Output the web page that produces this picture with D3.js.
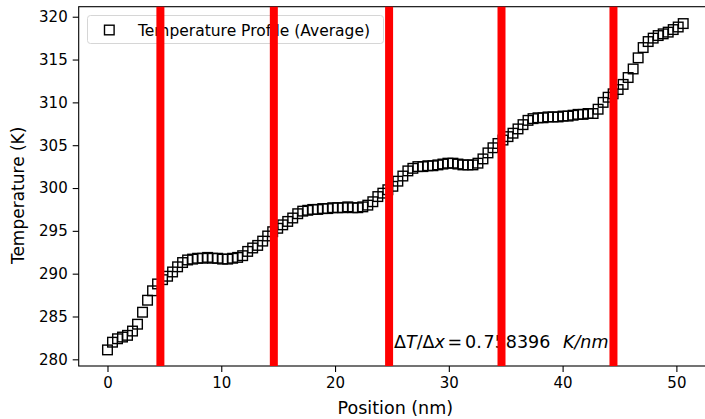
<!DOCTYPE html>
<html><head><meta charset="utf-8">
<script src="https://cdn.jsdelivr.net/npm/d3@7"></script>
<style>body{margin:0;background:#fff}svg{display:block}text{font-family:"DejaVu Sans",sans-serif;fill:#000}</style>
</head><body><svg id="c" width="705" height="419"></svg>
<script>
// Bin step (nm) and averaged temperature values (K)
const binStep = 0.44;
const temperature = [
281.1,282.0,282.4,282.6,282.8,283.3,284.1,285.5,286.9,288.0,
288.8,289.3,289.7,290.2,290.8,291.3,291.6,291.7,291.8,291.8,
291.9,291.8,291.8,291.7,291.7,291.8,291.9,292.1,292.6,293.0,
293.3,293.8,294.4,294.9,295.3,295.7,296.1,296.5,297.0,297.3,
297.4,297.5,297.5,297.6,297.6,297.7,297.7,297.7,297.8,297.7,
297.7,297.8,298.0,298.4,299.0,299.4,299.8,300.2,300.8,301.4,
302.0,302.3,302.5,302.5,302.6,302.6,302.7,302.8,302.9,302.9,
302.8,302.7,302.7,302.7,302.9,303.4,304.1,304.7,305.2,305.6,
306.0,306.4,306.9,307.4,307.9,308.1,308.2,308.2,308.3,308.3,
308.3,308.4,308.4,308.5,308.6,308.6,308.7,308.7,309.2,310.0,
310.6,311.0,311.5,312.1,312.9,313.9,315.2,316.4,317.1,317.5,
317.8,318.0,318.2,318.5,318.8,319.2];
const position = temperature.map((_, i) => +(i * binStep).toFixed(2));
const boundaries = [4.65, 14.62, 24.75, 34.63, 44.47];
const xTicks = [0, 10, 20, 30, 40, 50];
const yTicks = [280, 285, 290, 295, 300, 305, 310, 315, 320];
const legendLabel = "Temperature Profile (Average)";
const xLabel = "Position (nm)";
const yLabel = "Temperature (K)";
const gradientInt = "0.";
const gradientFrac = "758396";

const svg = d3.select("#c");
const L = 78.7, R = 712, T = 6.7, B = 366;
const x = d3.scaleLinear().domain([-2.53, 53.13]).range([L, R]);
const y = d3.scaleLinear().domain([279.22, 321.17]).range([B, T]);

svg.append("defs").append("clipPath").attr("id","clip")
  .append("rect").attr("x",L).attr("y",T).attr("width",R-L).attr("height",B-T);

// axes
const xa = svg.append("g").attr("transform",`translate(0,${B})`)
  .call(d3.axisBottom(x).tickValues(xTicks).tickSize(6).tickPadding(5).tickFormat(d3.format("d")));
const ya = svg.append("g").attr("transform",`translate(${L},0)`)
  .call(d3.axisLeft(y).tickValues(yTicks).tickSize(6).tickPadding(5).tickFormat(d3.format("d")));
[xa, ya].forEach(g => {
  g.select(".domain").remove();
  g.selectAll("line").attr("stroke","#000").attr("stroke-width",1.1);
  g.selectAll("text").style("font-size","15px").attr("fill","#000").style("font-family","DejaVu Sans");
});
// frame
svg.append("rect").attr("x",L).attr("y",T).attr("width",R-L).attr("height",B-T)
  .attr("fill","none").attr("stroke","#000").attr("stroke-width",1.1);

// points
svg.append("g").attr("clip-path","url(#clip)").selectAll("rect.pt").data(temperature).join("rect")
  .attr("class","pt")
  .attr("x",(d,i)=>x(position[i])-4.8).attr("y",d=>y(d)-4.8)
  .attr("width",9.6).attr("height",9.6)
  .attr("fill","none").attr("stroke","#000").attr("stroke-width",1.4);

// legend
const lg = svg.append("g");
lg.append("rect").attr("x",87.5).attr("y",15.5).attr("width",296).attr("height",28).attr("rx",3)
  .attr("fill","#fff").attr("fill-opacity",0.8).attr("stroke","#d6d6d6").attr("stroke-width",1);
lg.append("rect").attr("x",109.3-4.8).attr("y",30-4.8).attr("width",9.6).attr("height",9.6)
  .attr("fill","none").attr("stroke","#000").attr("stroke-width",1.4);
lg.append("text").attr("x",138).attr("y",35.5).style("font-size","15.5px").text(legendLabel);

// annotation (math-style)
const ann = svg.append("text").attr("y",348).style("font-size","17.5px");
ann.append("tspan").attr("x",394).text("Δ");
ann.append("tspan").style("font-style","italic").text("T");
ann.append("tspan").text("/Δ");
ann.append("tspan").style("font-style","italic").text("x");
ann.append("tspan").attr("x",447.5).text("=");
ann.append("tspan").attr("x",465).text(gradientInt);
ann.append("tspan").attr("x",483.5).text(gradientFrac);
ann.append("tspan").attr("x",563).style("font-style","italic").text("K/nm");

// boundary lines
svg.append("g").selectAll("line").data(boundaries).join("line")
  .attr("x1",d=>x(d)).attr("x2",d=>x(d)).attr("y1",T).attr("y2",B)
  .attr("stroke","#ff0000").attr("stroke-width",8);

// axis labels
svg.append("text").attr("x",(L+R)/2).attr("y",414).attr("text-anchor","middle")
  .style("font-size","17.5px").text(xLabel);
svg.append("text").attr("transform",`translate(24,${(T+B)/2+9}) rotate(-90)`).attr("text-anchor","middle")
  .style("font-size","17px").text(yLabel);
</script></body></html>
